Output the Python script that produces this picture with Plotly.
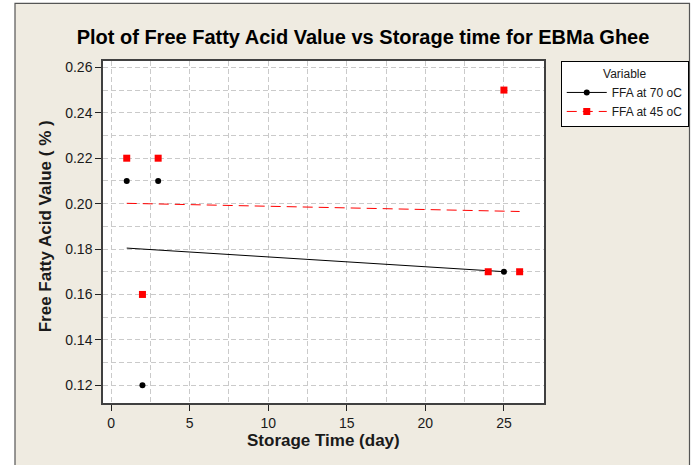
import numpy as np
import plotly.graph_objects as go

# Data
x70 = [1, 2, 3, 25]
y70 = [0.21, 0.12, 0.21, 0.17]
x45 = [1, 2, 3, 24, 25, 26]
y45 = [0.22, 0.16, 0.22, 0.17, 0.25, 0.17]
series_names = ["FFA at 70 oC", "FFA at 45 oC"]
title_text = "Plot of Free Fatty Acid Value vs Storage time for EBMa Ghee"
x_title = "Storage Time (day)"
y_title = "Free Fatty Acid Value ( % )"

FONT = "Arial, 'Liberation Sans', sans-serif"
BEIGE = "#EFEBE1"
GRID = "#CACACA"

def fit(xs, ys):
    b, a = np.polyfit(xs, ys, 1)
    xf = np.array([min(xs), max(xs)], dtype=float)
    return xf, a + b * xf

fx70, fy70 = fit(x70, y70)
fx45, fy45 = fit(x45, y45)

fig = go.Figure()
# fit lines
fig.add_trace(go.Scatter(x=fx70, y=fy70, mode="lines", line=dict(color="black", width=1),
                         showlegend=False, hoverinfo="skip"))
fig.add_trace(go.Scatter(x=fx45, y=fy45, mode="lines", line=dict(color="red", width=1, dash="10px,6px"),
                         showlegend=False, hoverinfo="skip"))
# data points
fig.add_trace(go.Scatter(x=x70, y=y70, mode="markers", marker=dict(color="black", size=6, symbol="circle"),
                         showlegend=False))
fig.add_trace(go.Scatter(x=x45, y=y45, mode="markers", marker=dict(color="red", size=7, symbol="square"),
                         showlegend=False))
# legend entries
fig.add_trace(go.Scatter(x=[None], y=[None], mode="lines+markers", name=series_names[0],
                         line=dict(color="black", width=1), marker=dict(color="black", size=6, symbol="circle")))
fig.add_trace(go.Scatter(x=[None], y=[None], mode="lines+markers", name=series_names[1],
                         line=dict(color="red", width=1, dash="10px,6px"),
                         marker=dict(color="red", size=7, symbol="square")))

fig.update_layout(
    width=692, height=465,
    margin=dict(l=103, r=148, t=61, b=62, autoexpand=False),
    paper_bgcolor="white",
    plot_bgcolor="white",
    font=dict(family=FONT, color="#1a1a1a", size=14),
    title=dict(text="<b>" + title_text + "</b>", x=363 / 692, xref="container", xanchor="center",
               y=1 - 37 / 465, yref="container", yanchor="middle",
               font=dict(size=20, color="black", family=FONT)),
    legend=dict(x=1.038, y=0.999, xanchor="left", yanchor="top", bgcolor="white",
                bordercolor="black", borderwidth=1,
                title=dict(text="Variable", side="top center", font=dict(size=12, color="#1a1a1a")),
                font=dict(size=12, color="#1a1a1a"), tracegroupgap=0, itemwidth=40),
    showlegend=True,
)

fig.update_xaxes(range=[-0.51, 27.55], tickmode="linear", tick0=0, dtick=5,
                 showgrid=True, gridcolor=GRID, griddash="5px,3px", gridwidth=1,
                 minor=dict(dtick=2.5, tick0=0, showgrid=True, gridcolor=GRID, griddash="5px,3px",
                            ticklen=0),
                 ticks="outside", ticklen=6, tickcolor="#222", zeroline=False,
                 showline=True, linecolor="#404040", linewidth=1.5, mirror=True,
                 tickfont=dict(size=14, color="#1a1a1a"))
fig.update_yaxes(range=[0.1122, 0.2628], tickmode="linear", tick0=0.12, dtick=0.02, tickformat=".2f",
                 showgrid=True, gridcolor=GRID, griddash="5px,3px", gridwidth=1,
                 minor=dict(dtick=0.01, tick0=0.12, showgrid=True, gridcolor=GRID, griddash="5px,3px",
                            ticklen=0),
                 ticks="outside", ticklen=6, tickcolor="#222", zeroline=False,
                 showline=True, linecolor="#404040", linewidth=1.5, mirror=True,
                 tickfont=dict(size=14, color="#1a1a1a"))

# figure background panel (beige with border) and white plot area
fig.add_shape(type="rect", xref="paper", yref="paper",
              x0=(15 - 103) / 441, x1=(689.5 - 103) / 441,
              y0=(402.7 - 470) / 342, y1=(402.7 - 3) / 342,
              fillcolor=BEIGE, line=dict(color="#555555", width=1.2), layer="below")
fig.add_shape(type="rect", xref="paper", yref="paper", x0=0, x1=1, y0=0, y1=1,
              fillcolor="white", line=dict(width=0), layer="below")

fig.add_annotation(text="<b>" + x_title + "</b>", xref="paper", yref="paper", x=0.5, y=(402.7 - 440) / 342,
                   xanchor="center", yanchor="middle", showarrow=False,
                   font=dict(size=17, color="#1a1a1a", family=FONT))
fig.add_annotation(text="<b>" + y_title + "</b>", xref="paper", yref="paper", x=(45 - 103) / 441,
                   y=(402.7 - 226) / 342, xanchor="center", yanchor="middle", textangle=-90,
                   showarrow=False, font=dict(size=17, color="#1a1a1a", family=FONT))

fig.write_html("out.html", config={"displayModeBar": False},
               post_script="document.body.style.margin='0';document.body.style.overflow='hidden';")
